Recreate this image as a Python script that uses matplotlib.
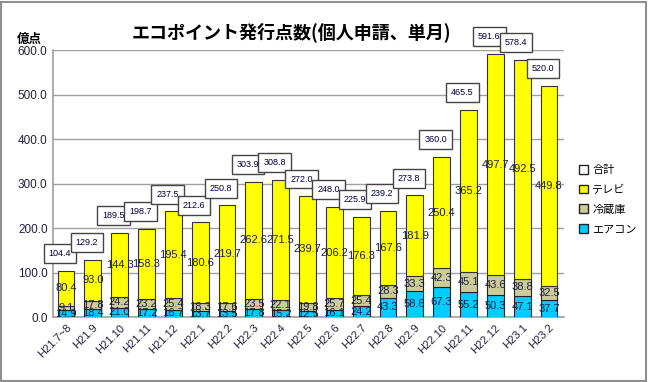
import matplotlib
matplotlib.use("Agg")
import matplotlib.pyplot as plt
from matplotlib.patches import Patch, Rectangle
import numpy as np

plt.rcParams['font.family'] = ['Liberation Sans', 'Noto Sans CJK JP', 'DejaVu Sans']

months = ["H21.7~8", "H21.9", "H21.10", "H21.11", "H21.12", "H22.1", "H22.2",
          "H22.3", "H22.4", "H22.5", "H22.6", "H22.7", "H22.8", "H22.9",
          "H22.10", "H22.11", "H22.12", "H23.1", "H23.2"]
aircon = [14.9, 18.4, 21.0, 17.2, 16.7, 13.7, 13.5, 17.8, 15.2, 12.5, 16.1,
          24.2, 43.3, 58.6, 67.3, 55.2, 50.3, 47.1, 37.7]
fridge = [9.1, 17.8, 24.2, 23.2, 25.4, 18.3, 17.6, 23.5, 22.1, 19.8, 25.7,
          25.4, 28.3, 33.3, 42.3, 45.1, 43.6, 38.8, 32.5]
tv = [80.4, 93.0, 144.3, 158.3, 195.4, 180.6, 219.7, 262.6, 271.5, 239.7,
      206.2, 176.3, 167.6, 181.9, 250.4, 365.2, 497.7, 492.5, 449.8]
total = [104.4, 129.2, 189.5, 198.7, 237.5, 212.6, 250.8, 303.9, 308.8, 272.0,
         248.0, 225.9, 239.2, 273.8, 360.0, 465.5, 591.6, 578.4, 520.0]

C_AC = "#00CCFF"
C_FR = "#CCCC99"
C_TV = "#FFFF00"
TXT = "#202040"

fig = plt.figure(figsize=(6.48, 3.82), dpi=100)
fig.patches.append(Rectangle((0.002, 0.003), 0.995, 0.993, transform=fig.transFigure,
                             fill=False, edgecolor="#909090", linewidth=1.5))
ax = fig.add_axes([0.082, 0.170, 0.788, 0.699])

x = np.arange(len(months))
w = 0.63
ac = np.array(aircon)
fr = np.array(fridge)
b1 = ax.bar(x, ac, w, color=C_AC, edgecolor="#222222", linewidth=0.8, zorder=3)
b2 = ax.bar(x, fr, w, bottom=ac, color=C_FR, edgecolor="#222222", linewidth=0.8, zorder=3)
b3 = ax.bar(x, tv, w, bottom=ac + fr, color=C_TV, edgecolor="#333333", linewidth=0.8, zorder=3)

for bars in (b1, b2, b3):
    ax.bar_label(bars, fmt="%.1f", label_type="center", fontsize=8, color=TXT, zorder=5)

for xi, t in zip(x, total):
    ax.annotate(f"{t:.1f}", (xi, t), xytext=(-6, 17), textcoords="offset pixels",
                ha="center", va="center", fontsize=6.5, color="#000040",
                bbox=dict(boxstyle="square,pad=0.55", fc="white", ec="#444444", lw=1.0),
                annotation_clip=False, zorder=6)

ax.set_xlim(-0.48, 18.55)
ax.set_ylim(0, 600)
ax.set_yticks(np.arange(0, 601, 100))
ax.set_yticklabels([f"{v:.1f}" for v in np.arange(0, 601, 100)], fontsize=8.5, color=TXT)
ax.set_xticks(x)
ax.set_xticklabels(months, rotation=45, ha="right", rotation_mode="anchor", fontsize=8, color=TXT)
ax.tick_params(axis="both", length=0, pad=4)
ax.yaxis.grid(True, color="#A0A0A0", linewidth=1.0, zorder=0)
ax.set_axisbelow(True)
for s in ("top", "right"):
    ax.spines[s].set_visible(False)
for s in ("left", "bottom"):
    ax.spines[s].set_color("#A0A0A0")
    ax.spines[s].set_linewidth(1.2)

fig.text(0.449, 0.916, "エコポイント発行点数(個人申請、単月)", ha="center", va="center",
         fontsize=13, fontweight="bold", family=["Noto Sans CJK JP", "DejaVu Sans"])
fig.text(0.046, 0.897, "億点", ha="center", va="center", fontsize=9, fontweight="bold",
         family=["Noto Sans CJK JP", "DejaVu Sans"])

handles = [Patch(fc="white", ec="#222222", label="合計"),
           Patch(fc=C_TV, ec="#222222", label="テレビ"),
           Patch(fc=C_FR, ec="#222222", label="冷蔵庫"),
           Patch(fc=C_AC, ec="#222222", label="エアコン")]
fig.legend(handles=handles, loc="upper left", bbox_to_anchor=(0.883, 0.585), frameon=False,
           handlelength=0.8, handleheight=0.8, handletextpad=0.4, borderaxespad=0.2,
           labelspacing=0.85, prop={"family": ["Noto Sans CJK JP", "DejaVu Sans"], "size": 8})

fig.savefig("out.png", dpi=100)
